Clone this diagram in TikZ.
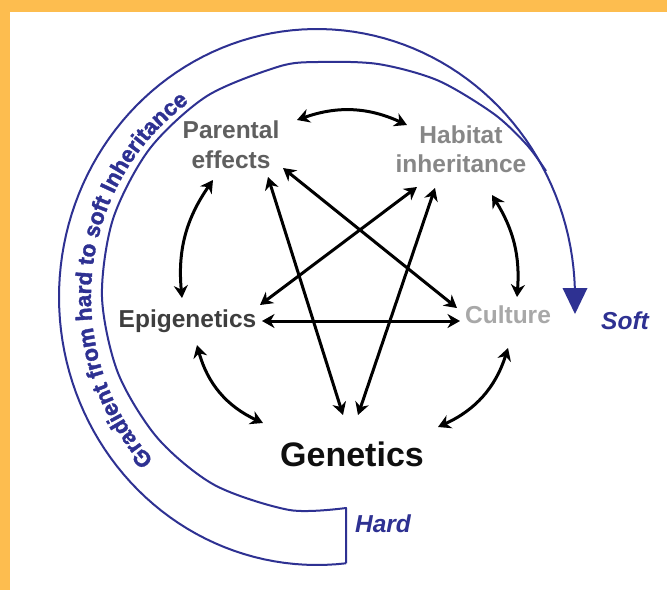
\documentclass[tikz,border=0pt]{standalone}
\usepackage{fontspec}
\setmainfont{Liberation Sans}
\newfontfamily\heavyfont{Liberation Sans}[BoldFeatures={FakeBold=1.6}]
\usetikzlibrary{arrows.meta,decorations.text,calc}
\definecolor{gblue}{RGB}{46,49,146}
\definecolor{bgorange}{RGB}{253,189,79}
\definecolor{parcol}{RGB}{95,95,95}
\definecolor{habcol}{RGB}{135,135,135}
\definecolor{epicol}{RGB}{62,62,62}
\definecolor{culcol}{RGB}{168,168,168}
\definecolor{gencol}{RGB}{15,15,15}
\begin{document}
\begin{tikzpicture}[x=1pt,y=-1pt,
  lbl/.style={font=\fontsize{24.5}{29.5}\selectfont\bfseries, inner sep=0pt, align=center},
  biglbl/.style={font=\fontsize{34}{38}\selectfont\bfseries, inner sep=0pt, text=gencol},
  endlbl/.style={font=\fontsize{24.5}{29.5}\selectfont\bfseries\itshape, inner sep=0pt, text=gblue},
  dbl/.style={line width=3pt, {Stealth[length=12.5pt,width=14pt,inset=4pt]}-{Stealth[length=12.5pt,width=14pt,inset=4pt]}},
  band/.style={draw=gblue, line width=2pt, line join=round},
]
\useasboundingbox (0,0) rectangle (667,590);
\fill[bgorange] (0,0) rectangle (667,590);
\fill[white] (10,12) rectangle (667,590);

% gradient band
\draw[band] plot[smooth] coordinates {(546,171) (527,145) (494,114) (438,80.5) (378,64) (318,62) (279,66.5) (207,96) (149.5,149) (113,219) (102,297) (118,373) (157.5,438) (214.5,485) (289.5,510) (346,508)} -- (346,563.3);
\draw[band] plot[domain=276.45:4, samples=120, variable=\t] ({317+258*cos(\t)},{297-268*sin(\t)}) -- (575,291);
\fill[gblue] (562.5,288) -- (587.5,288) -- (575,314) -- cycle;
\path[decorate, decoration={text along path, text align=center,
  text={|\fontsize{22.5}{26}\heavyfont\bfseries\color{gblue}|Gradient from hard to soft Inheritance}}]
  plot[domain=262:86, samples=90, variable=\t] ({317+226*cos(\t)},{297-236*sin(\t)});

% nodes
\node[lbl, text=parcol] (par) at (231,144.5) {Parental\\effects};
\node[lbl, text=habcol] (hab) at (461,149) {Habitat\\inheritance};
\node[lbl, text=epicol] (epi) at (187.5,321.5) {Epigenetics};
\node[lbl, text=culcol] (cul) at (508,314.3) {Culture};
\node[biglbl] (gen) at (352,454.6) {Genetics};
\node[endlbl] (soft) at (625,321) {Soft};
\node[endlbl] (hard) at (383,524) {Hard};

% ring arrows
\draw[dbl] ($(par)+(66,-24.5)$) to[bend left=22] ($(hab)+(-54,-24)$);
\draw[dbl] ($(par)+(-18,35.5)$) to[bend right=20] ($(epi)+(-5.5,-23.5)$);
\draw[dbl] ($(hab)+(31,46)$) to[bend left=18] ($(cul)+(9,-17.3)$);
\draw[dbl] ($(epi)+(9.5,23.5)$) to[bend right=25] ($(gen)+(-89,-31.6)$);
\draw[dbl] ($(cul)+(0,33.7)$) to[bend left=24] ($(gen)+(86,-27.6)$);
% star arrows
\draw[dbl] ($(epi)+(74.5,-0.5)$) -- ($(cul)+(-48,6.7)$);
\draw[dbl] ($(par)+(37,32.5)$) -- ($(gen)+(-9,-39.6)$);
\draw[dbl] ($(par)+(52,23.5)$) -- ($(cul)+(-51,-6.3)$);
\draw[dbl] ($(hab)+(-44,38)$) -- ($(epi)+(72.5,-16.5)$);
\draw[dbl] ($(hab)+(-26,39)$) -- ($(gen)+(6,-39.6)$);
\end{tikzpicture}
\end{document}
